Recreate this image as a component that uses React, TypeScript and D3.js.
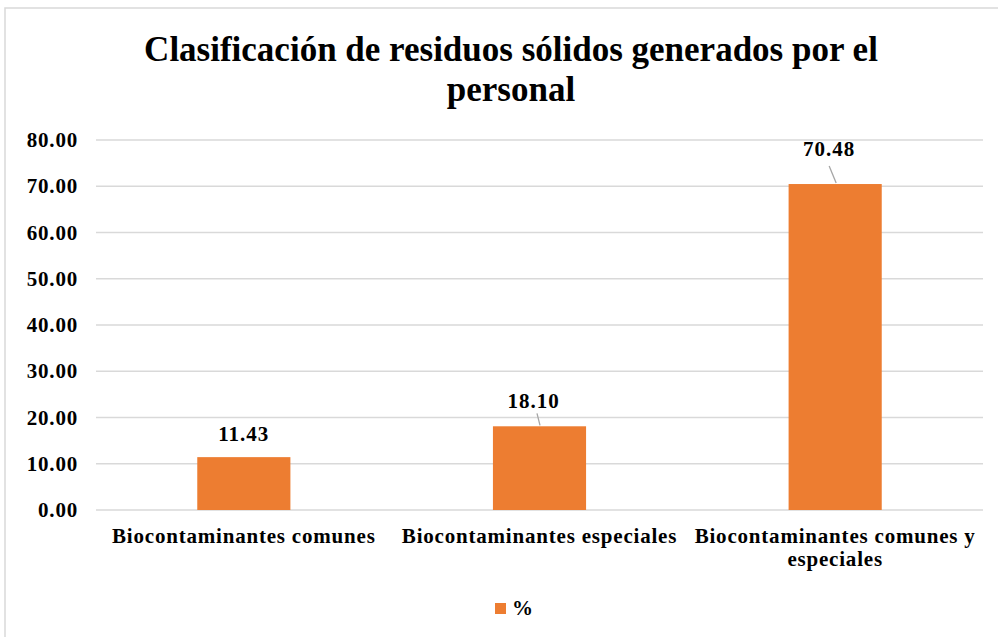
import React from "react";
import * as d3 from "d3";

const categories = ["Biocontaminantes comunes", "Biocontaminantes especiales", "Biocontaminantes comunes y especiales"];
const categoryLines = [["Biocontaminantes comunes"], ["Biocontaminantes especiales"], ["Biocontaminantes comunes y", "especiales"]];
const values = [11.43, 18.1, 70.48];
const yTicks = [0, 10, 20, 30, 40, 50, 60, 70, 80];
const seriesName = "%";
const titleLines = ["Clasificación de residuos sólidos generados por el", "personal"];

// label placement (offsets relative to bar top / bar centre)
const labelLayout = [
  { lx: 0, ly: 16, leader: null as null | { x1: number; y1: number; x2: number; y2: number } },
  { lx: -6, ly: 18, leader: { x1: -2.5, y1: 13, x2: 0.5, y2: 1 } },
  { lx: -6, ly: 28, leader: { x1: -6, y1: 18, x2: 1, y2: 1 } },
];

export default function App() {
  const W = 998, H = 637;
  const left = 96, right = 983, top = 140, bottom = 510;
  const x = d3.scaleBand<string>().domain(categories).range([left, right]).paddingInner(0.685).paddingOuter(0.3425);
  const y = d3.scaleLinear().domain([0, 80]).range([bottom, top]);
  const orange = "#ED7D31";
  const font = "'Liberation Serif', 'Times New Roman', serif";
  return (
    <svg width={W} height={H} style={{ position: "absolute", left: 0, top: 0, background: "#fff" }} fontFamily={font}>
      <rect x={5} y={8} width={1100} height={700} fill="#fff" stroke="#D9D9D9" strokeWidth={1.5} />
      {titleLines.map((t, i) => (
        <text key={i} x={511} y={61 + i * 40} textAnchor="middle" fontSize={35} fontWeight="bold" fill="#000">{t}</text>
      ))}
      {yTicks.map((t) => (
        <g key={t}>
          <line x1={left} x2={right} y1={y(t)} y2={y(t)} stroke="#D9D9D9" strokeWidth={1.3} />
          <text x={78} y={y(t) + 7} textAnchor="end" fontSize={21} fontWeight="bold" letterSpacing={0.8} fill="#000">{t.toFixed(2)}</text>
        </g>
      ))}
      {categories.map((c, i) => {
        const bx = x(c)!;
        const bw = x.bandwidth();
        const cx = bx + bw / 2;
        const vy = y(values[i]);
        const L = labelLayout[i];
        return (
          <g key={c}>
            <rect x={bx} y={vy} width={bw} height={bottom - vy} fill={orange} />
            {L.leader && <line x1={cx + L.leader.x1} y1={vy - L.leader.y1} x2={cx + L.leader.x2} y2={vy - L.leader.y2} stroke="#A6A6A6" strokeWidth={1.3} />}
            <text x={cx + L.lx} y={vy - L.ly} textAnchor="middle" fontSize={21} fontWeight="bold" letterSpacing={1} fill="#000">{values[i].toFixed(2)}</text>
            {categoryLines[i].map((l, j) => (
              <text key={j} x={cx} y={543 + j * 22.5} textAnchor="middle" fontSize={21} fontWeight="bold" letterSpacing={0.8} fill="#000">{l}</text>
            ))}
          </g>
        );
      })}
      <rect x={495} y={603} width={11} height={11} fill={orange} />
      <text x={512} y={615} fontSize={21} fontWeight="bold" fill="#000">{seriesName}</text>
    </svg>
  );
}
